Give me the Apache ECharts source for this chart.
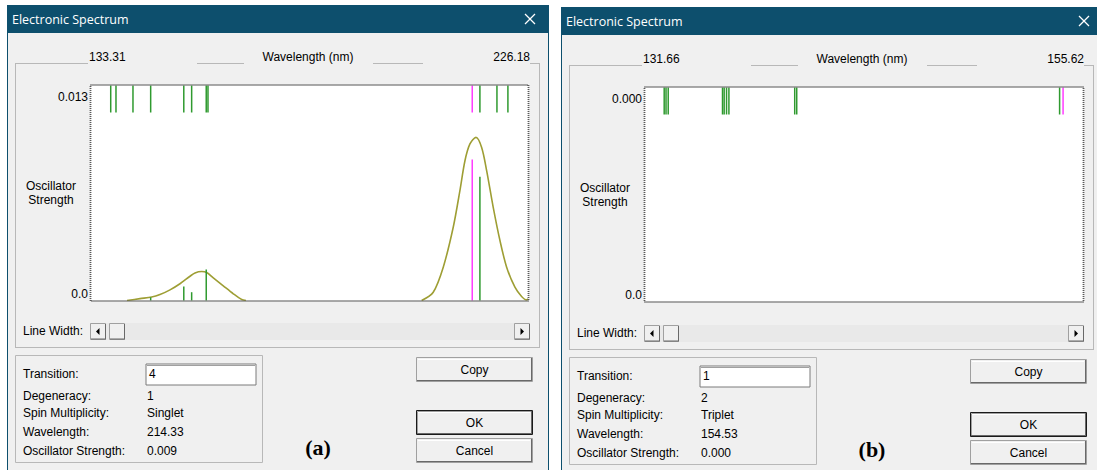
<!DOCTYPE html>
<html><head><meta charset="utf-8">
<script src="https://cdn.jsdelivr.net/npm/echarts@6/dist/echarts.min.js"></script>
<style>html,body{margin:0;padding:0;background:#fff}#c{width:1097px;height:470px}</style>
</head><body><div id="c"></div>
<script>
// ---------------- data ----------------
const windowTitle = 'Electronic Spectrum';
const axisTitle = 'Wavelength (nm)';
const yTitleLines = ['Oscillator', 'Strength'];
const infoLabels = ['Transition:', 'Degeneracy:', 'Spin Multiplicity:', 'Wavelength:', 'Oscillator Strength:'];
const buttonLabels = ['Copy', 'OK', 'Cancel'];
const lineWidthLabel = 'Line Width:';
const panelLetters = ['(a)', '(b)'];

// panel (a)
const aRange = [133.31, 226.18];
const aRangeText = ['133.31', '226.18'];
const aYTicks = [0, 0.013];
const aYTickText = ['0.0', '0.013'];
const aWavelengths = [137.50, 138.62, 142.23, 145.99, 153.03, 154.70, 157.80, 158.17, 214.33, 215.96, 219.58, 221.91];
const aStrengths   = [0, 0, 0, 0.0002, 0.0009, 0.00053, 0.00198, 0, 0.009, 0.0079, 0, 0];
const aSelected = 214.33;
const aCurveLeftWl  = [140.96, 143.72, 146.21, 147.97, 150.10, 152.22, 154.35, 155.41, 156.83, 157.89, 159.30, 161.42, 163.55, 165.33, 166.24];
const aCurveLeftF   = [0, 0.00012, 0.00022, 0.00038, 0.00068, 0.00107, 0.00155, 0.00176, 0.00185, 0.00179, 0.00145, 0.00094, 0.00043, 0.00006, 0];
const aCurveRightWl = [203.58, 206.04, 208.17, 210.29, 211.71, 212.78, 213.84, 215.12, 216.33, 217.39, 218.79, 220.22, 221.64, 223.40, 224.82, 225.89, 226.18];
const aCurveRightF  = [0, 0.00053, 0.00213, 0.00468, 0.00702, 0.00893, 0.01000, 0.01042, 0.00978, 0.00830, 0.00595, 0.00383, 0.00213, 0.00085, 0.00026, 0.00004, 0.0001];
const aInfoValues = ['4', '1', 'Singlet', '214.33', '0.009'];

// panel (b)
const bRange = [131.66, 155.62];
const bRangeText = ['131.66', '155.62'];
const bYTicks = [0, 0.0004];
const bYTickText = ['0.0', '0.000'];
const bWavelengths = [132.71, 132.81, 132.93, 135.90, 135.99, 136.12, 136.25, 139.85, 139.96, 154.34, 154.53];
const bStrengths   = [0, 0, 0, 0, 0, 0, 0, 0, 0, 0, 0];
const bSelected = 154.53;
const bInfoValues = ['1', '2', 'Triplet', '154.53', '0.000'];

// ---------------- style / layout ----------------
const FONT = '"Liberation Sans", Arial, sans-serif';
const TITLE_FONT = '"Open Sans", "Noto Sans", sans-serif';
const GREEN = '#2f9a2f', MAGENTA = '#ff3cff', OLIVE = '#9e9e34';
const BAR = '#0d4f6d';
const panels = [
  {dx: 0, dy: 0, plot: {left: 91, top: 85.5, width: 437, height: 215}},
  {dx: 554, dy: 2, plot: {left: 645, top: 87.5, width: 438, height: 214}}
];
const LABEL_INSET = 11.5, TICK_ROW = 27;

function txt(x, y, text, opt) {
  opt = opt || {};
  return {type: 'text', x: x, y: y, z: opt.z || 10, silent: true,
    style: {text: text, fill: opt.fill || '#000', font: opt.font || ('12px ' + FONT),
      textAlign: opt.align || 'left', align: opt.align || 'left',
      textVerticalAlign: 'middle', verticalAlign: 'middle'}};
}
function ln(x1, y1, x2, y2, color, w, z) {
  return {type: 'line', silent: true, z: z || 2, shape: {x1: x1, y1: y1, x2: x2, y2: y2},
    style: {stroke: color, lineWidth: w || 1}};
}
function rc(x, y, w, h, fill, stroke, z, extra) {
  return {type: 'rect', silent: true, z: z || 1, shape: {x: x, y: y, width: w, height: h},
    style: Object.assign({fill: fill || 'none', stroke: stroke || null, lineWidth: 1}, extra || {})};
}
function button(x, y, w, h, label, isDefault) {
  const e = [];
  e.push(rc(x + 0.5, y + 0.5, w - 1, h - 1, '#f0f0f0', isDefault ? '#1a1a1a' : '#a0a0a0', 3));
  if (isDefault) e.push(rc(x + 1.5, y + 1.5, w - 3, h - 3, null, '#a0a0a0', 3));
  e.push(ln(x + 1, y + h - 1.5, x + w - 1, y + h - 1.5, '#696969', 1, 4));
  e.push(ln(x + w - 1.5, y + 1, x + w - 1.5, y + h - 1, '#696969', 1, 4));
  e.push(ln(x + 2, y + 2.5, x + w - 3, y + 2.5, '#ffffff', 1, 4));
  e.push(txt(x + w / 2, y + h / 2, label, {align: 'center'}));
  return e;
}
function scrollBtn(x, y, dir) {
  const e = [rc(x + 0.5, y + 0.5, 15, 16, '#f0f0f0', '#a0a0a0', 3),
    ln(x + 1, y + 16, x + 16, y + 16, '#696969', 1, 4),
    ln(x + 15.5, y + 1, x + 15.5, y + 16, '#696969', 1, 4)];
  const cx = x + 8, cy = y + 8.5;
  const pts = dir < 0 ? [[cx - 2, cy], [cx + 1.5, cy - 3.5], [cx + 1.5, cy + 3.5]]
                      : dir > 0 ? [[cx + 2, cy], [cx - 1.5, cy - 3.5], [cx - 1.5, cy + 3.5]] : null;
  if (pts) e.push({type: 'polygon', silent: true, z: 5, shape: {points: pts}, style: {fill: '#000'}});
  return e;
}
function chrome(p, rangeText, infoValues, letter) {
  const dx = p.dx, dy = p.dy, X = v => v + dx, Y = v => v + dy;
  let e = [];
  e.push(rc(X(7.5), Y(5.5), 541, 470, '#f0f0f0', BAR, -10));
  e.push(rc(X(7), Y(5), 542, 28, BAR, null, -9));
  e.push(txt(X(12), Y(19), windowTitle, {fill: '#fff', font: '12.5px ' + TITLE_FONT}));
  e.push(ln(X(525), Y(14), X(535), Y(24), '#fff', 1.2, 5));
  e.push(ln(X(535), Y(14), X(525), Y(24), '#fff', 1.2, 5));
  // group box 1 (segmented top)
  const gc = '#b8b8b8';
  [[15, 88], [197, 244], [373, 423], [530, 539]].forEach(s => e.push(ln(X(s[0]), Y(63.5), X(s[1]), Y(63.5), gc, 1)));
  e.push(ln(X(15.5), Y(63), X(15.5), Y(348), gc, 1));
  e.push(ln(X(539.5), Y(63), X(539.5), Y(348), gc, 1));
  e.push(ln(X(15), Y(347.5), X(540), Y(347.5), gc, 1));
  e.push(txt(X(89), Y(57), rangeText[0]));
  e.push(txt(X(308), Y(57), axisTitle, {align: 'center'}));
  e.push(txt(X(530), Y(57), rangeText[1], {align: 'right'}));
  // plot background + border
  const g = p.plot;
  e.push(rc(g.left, g.top, g.width, g.height, '#ffffff', null, 0));
  e.push(rc(g.left - 0.5, g.top - 0.5, g.width + 1, g.height + 1, null, '#5a5a5a', 50, {lineWidth: 1.8, lineDash: [1, 1]}));
  e.push(txt(X(51), Y(186), yTitleLines[0], {align: 'center'}));
  e.push(txt(X(51), Y(200), yTitleLines[1], {align: 'center'}));
  // scroll bar
  e.push(txt(X(23), Y(331), lineWidthLabel));
  e.push(rc(X(90), Y(323), 440, 17, '#e9e9e9', null, 2));
  e = e.concat(scrollBtn(X(90), Y(323), -1), scrollBtn(X(109), Y(323), 0), scrollBtn(X(514), Y(323), 1));
  // group box 2
  e.push(rc(X(15.5), Y(355.5), 247, 107, null, gc, 2));
  const ys = [374, 396, 413, 432, 451];
  infoLabels.forEach((l, i) => e.push(txt(X(23), Y(ys[i]), l)));
  e.push(rc(X(146), Y(364), 110, 21, '#ffffff', '#7a7a7a', 3));
  e.push(ln(X(147), Y(365.5), X(255), Y(365.5), '#a0a0a0', 1, 4));
  infoValues.forEach((v, i) => e.push(txt(X(i === 0 ? 149 : 147), Y(ys[i]), v)));
  // buttons
  e = e.concat(button(X(416), Y(357), 117, 25, buttonLabels[0], false));
  e = e.concat(button(X(416), Y(410), 117, 25, buttonLabels[1], true));
  e = e.concat(button(X(416), Y(438), 117, 25, buttonLabels[2], false));
  e.push(txt(X(318), Y(447), letter, {align: 'center', font: 'bold 22px "Liberation Serif", "Times New Roman", serif'}));
  return e;
}

// ---------------- chart ----------------
const chart = echarts.init(document.getElementById('c'), null, {renderer: 'svg'});

function yMax(ticks, g) { return ticks[1] * g.height / (g.height - LABEL_INSET); }
function yAxisMain(idx, ticks, texts, g) {
  return {type: 'value', gridIndex: idx, min: 0, max: yMax(ticks, g), z: 20,
    axisLine: {show: false}, axisTick: {show: false}, splitLine: {show: false},
    axisLabel: {show: true, customValues: ticks, margin: 3, color: '#000', fontSize: 12, fontFamily: FONT,
      formatter: v => { const i = ticks.indexOf(v); const t = i >= 0 ? texts[i] : ''; return v === 0 ? '{z|' + t + '}' : '{t|' + t + '}'; },
      rich: {z: {padding: [0, 0, 13, 0], fontSize: 12, fontFamily: FONT, color: '#000'}, t: {fontSize: 12, fontFamily: FONT, color: '#000'}}}};
}
function hiddenAxis(idx, min, max) {
  return {type: 'value', gridIndex: idx, min: min, max: max, show: false, splitLine: {show: false}};
}
function stickSeries(xi, wls, fs, sel) {
  return {type: 'custom', xAxisIndex: xi, yAxisIndex: xi, z: 6, silent: true, clip: false,
    data: wls.map((w, i) => [w, fs[i]]),
    renderItem: (params, api) => {
      const w = api.value(0), f = api.value(1);
      if (!(f > 0)) return null;
      const p0 = api.coord([w, 0]), p1 = api.coord([w, f]);
      return {type: 'line', shape: {x1: p0[0], y1: p0[1], x2: p1[0], y2: p1[1]},
        style: {stroke: w === sel ? MAGENTA : GREEN, lineWidth: 1.5}};
    }};
}
function tickSeries(xi, wls, sel) {
  return {type: 'custom', xAxisIndex: xi, yAxisIndex: xi, z: 6, silent: true, clip: false,
    data: wls.map(w => [w]),
    renderItem: (params, api) => {
      const w = api.value(0);
      const p0 = api.coord([w, 1]), p1 = api.coord([w, 0]);
      return {type: 'line', shape: {x1: p0[0], y1: p0[1], x2: p1[0], y2: p1[1]},
        style: {stroke: w === sel ? MAGENTA : GREEN, lineWidth: 1.5}};
    }};
}
function curveSeries(wl, f) {
  return {type: 'line', xAxisIndex: 0, yAxisIndex: 0, z: 5, silent: true, showSymbol: false,
    smooth: 0.3,
    data: wl.map((w, i) => [w, f[i]]), lineStyle: {color: OLIVE, width: 1.6}, animation: false};
}

const pa = panels[0].plot, pb = panels[1].plot;
const option = {
  animation: false,
  backgroundColor: '#ffffff',
  grid: [
    Object.assign({show: false}, pa),
    {show: false, left: pa.left, top: pa.top, width: pa.width, height: TICK_ROW},
    Object.assign({show: false}, pb),
    {show: false, left: pb.left, top: pb.top, width: pb.width, height: TICK_ROW}
  ],
  xAxis: [hiddenAxis(0, aRange[0], aRange[1]), hiddenAxis(1, aRange[0], aRange[1]),
          hiddenAxis(2, bRange[0], bRange[1]), hiddenAxis(3, bRange[0], bRange[1])],
  yAxis: [yAxisMain(0, aYTicks, aYTickText, pa), hiddenAxis(1, 0, 1),
          yAxisMain(2, bYTicks, bYTickText, pb), hiddenAxis(3, 0, 1)],
  series: [
    curveSeries(aCurveLeftWl, aCurveLeftF),
    curveSeries(aCurveRightWl, aCurveRightF),
    stickSeries(0, aWavelengths, aStrengths, aSelected),
    tickSeries(1, aWavelengths, aSelected),
    stickSeries(2, bWavelengths, bStrengths, bSelected),
    tickSeries(3, bWavelengths, bSelected)
  ],
  graphic: {elements: [].concat(
    chrome(panels[0], aRangeText, aInfoValues, panelLetters[0]),
    chrome(panels[1], bRangeText, bInfoValues, panelLetters[1]))}
};
chart.setOption(option);
</script></body></html>
